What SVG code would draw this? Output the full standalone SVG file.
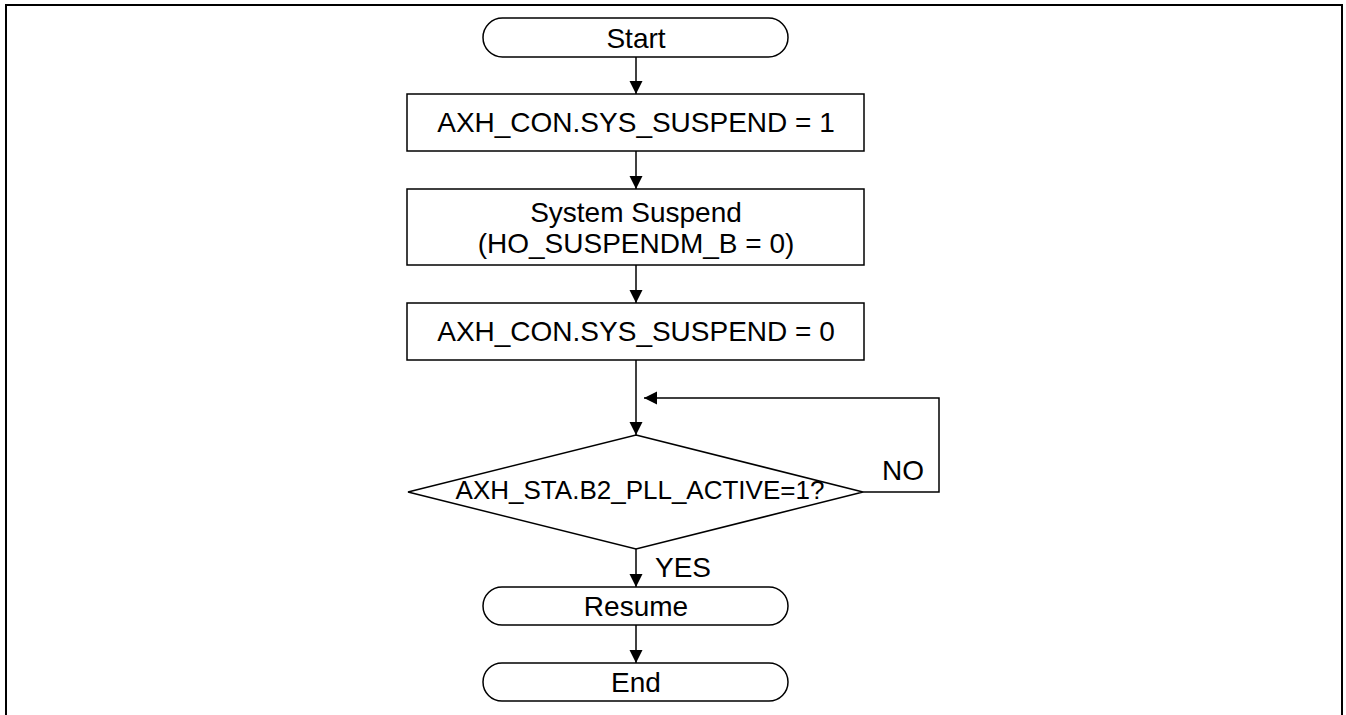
<svg xmlns="http://www.w3.org/2000/svg" width="1346" height="715" viewBox="0 0 1346 715">
<style>
.shape{fill:#fff;stroke:#000;stroke-width:1.5}
.conn{fill:none;stroke:#000;stroke-width:1.5}
.t{font-family:"Liberation Sans",Arial,sans-serif;font-size:28px;fill:#000;text-anchor:middle}
.d{font-family:"Liberation Sans",Arial,sans-serif;font-size:26px;fill:#000;text-anchor:middle}
.lbl{font-family:"Liberation Sans",Arial,sans-serif;font-size:28px;fill:#000}
</style>
<defs>
<marker id="arr" markerUnits="userSpaceOnUse" markerWidth="14" markerHeight="14" refX="13" refY="6.5" orient="auto">
<path d="M0,0 L13,6.5 L0,13 z" fill="#000"/>
</marker>
</defs>
<rect width="1346" height="715" fill="#fff"/>
<path d="M6,715 V5 H1342 V715" fill="none" stroke="#000" stroke-width="2"/>
<g id="connectors">
<line class="conn" x1="636" y1="57" x2="636" y2="94" marker-end="url(#arr)"/>
<line class="conn" x1="636" y1="151" x2="636" y2="189" marker-end="url(#arr)"/>
<line class="conn" x1="636" y1="265" x2="636" y2="303" marker-end="url(#arr)"/>
<line class="conn" x1="636" y1="360" x2="636" y2="435" marker-end="url(#arr)"/>
<polyline class="conn" points="863,492 939,492 939,398 644,398" marker-end="url(#arr)"/>
<line class="conn" x1="636" y1="549" x2="636" y2="587" marker-end="url(#arr)"/>
<line class="conn" x1="636" y1="625" x2="636" y2="663" marker-end="url(#arr)"/>
<text class="lbl" x="882" y="480">NO</text>
<text class="lbl" x="655" y="577">YES</text>
</g>
<g id="start">
<rect class="shape" x="483" y="18" width="305" height="39" rx="19.5" ry="19.5"/>
<text class="t" x="636" y="48">Start</text>
</g>
<g id="set1">
<rect class="shape" x="407" y="94" width="457" height="57"/>
<text class="t" x="636" y="132">AXH_CON.SYS_SUSPEND = 1</text>
</g>
<g id="suspend">
<rect class="shape" x="407" y="189" width="457" height="76"/>
<text class="t" x="636" y="222">System Suspend</text>
<text class="t" x="636" y="253">(HO_SUSPENDM_B = 0)</text>
</g>
<g id="set0">
<rect class="shape" x="407" y="303" width="457" height="57"/>
<text class="t" x="636" y="341">AXH_CON.SYS_SUSPEND = 0</text>
</g>
<g id="decision">
<polygon class="shape" points="636,435 863,492 636,549 408,492"/>
<text class="d" x="640" y="499">AXH_STA.B2_PLL_ACTIVE=1?</text>
</g>
<g id="resume">
<rect class="shape" x="483" y="587" width="305" height="38" rx="19" ry="19"/>
<text class="t" x="636" y="616">Resume</text>
</g>
<g id="end">
<rect class="shape" x="483" y="663" width="305" height="38" rx="19" ry="19"/>
<text class="t" x="636" y="692">End</text>
</g>
</svg>
